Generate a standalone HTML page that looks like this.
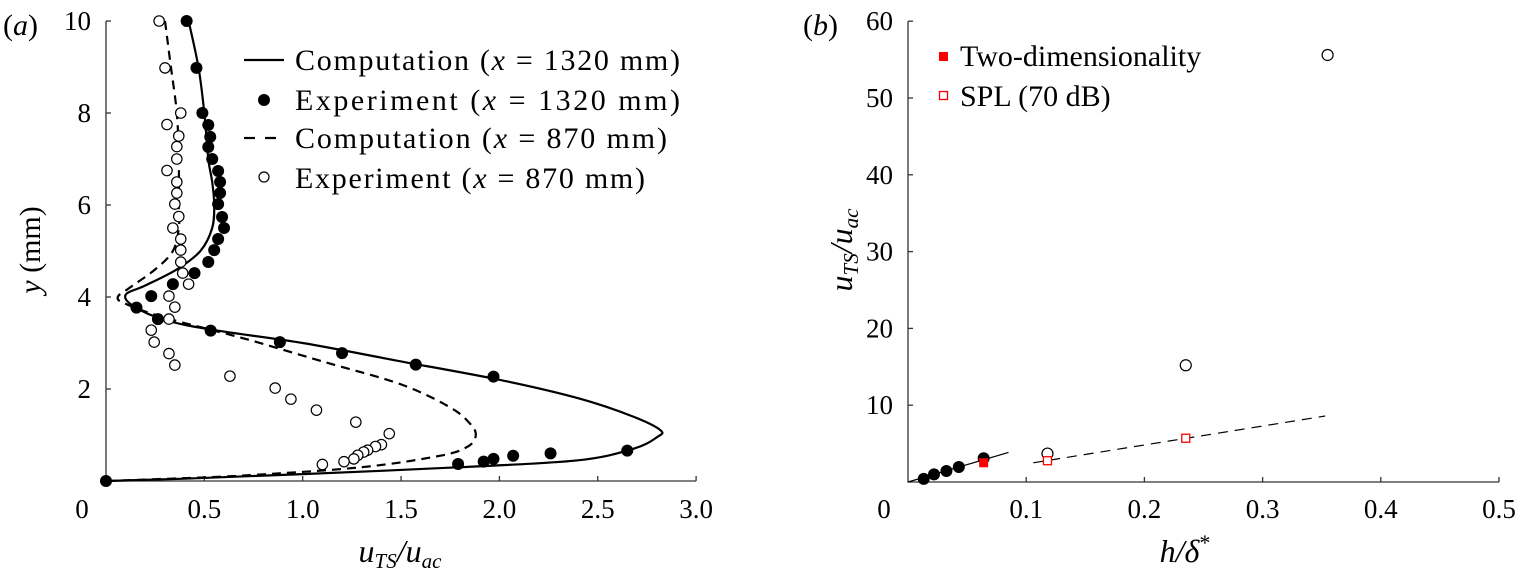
<!DOCTYPE html>
<html><head><meta charset="utf-8"><style>
html,body{margin:0;padding:0;background:#fff;}
svg{display:block;font-family:"Liberation Serif",serif;}
text{fill:#000;}
</style></head><body>
<svg id="fig" width="1520" height="588" viewBox="0 0 1520 588">
<g id="pa"></g>
<g id="pb"></g>
</svg>
<script>
// ---- Panel (a) data ----
const aXTicks = [0.5, 1.0, 1.5, 2.0, 2.5, 3.0];
const aXTickLabels = ["0.5","1.0","1.5","2.0","2.5","3.0"];
const aYTicks = [2, 4, 6, 8, 10];
const aYTickLabels = ["2","4","6","8","10"];
const comp1320U = [0.42,0.47,0.5,0.52,0.54,0.55,0.54,0.48,0.36,0.2,0.1,0.14,0.3,0.55,1.0,1.5,2.0,2.4,2.68,2.82,2.8,2.68,2.4,1.8,1.0,0.4,0];
const comp1320Y = [10,9,8,7,6.5,6,5.5,5.0,4.6,4.25,4.05,3.8,3.5,3.28,3.0,2.6,2.2,1.8,1.4,1.1,0.95,0.7,0.45,0.3,0.15,0.05,0];
const exp1320U = [0.41,0.46,0.49,0.52,0.53,0.52,0.54,0.57,0.58,0.58,0.57,0.59,0.6,0.57,0.55,0.52,0.45,0.34,0.23,0.155,0.264,0.532,0.884,1.2,1.575,1.97,2.65,2.26,2.07,1.97,1.92,1.79,0];
const exp1320Y = [10,8.98,8.0,7.74,7.48,7.26,7.0,6.74,6.5,6.26,6.02,5.74,5.5,5.26,5.02,4.76,4.52,4.28,4.02,3.77,3.52,3.27,3.02,2.78,2.53,2.27,0.66,0.6,0.55,0.48,0.42,0.37,0];
const comp870U = [0.3,0.33,0.36,0.37,0.37,0.37,0.34,0.25,0.12,0.06,0.1,0.3,0.7,1.1,1.5,1.75,1.85,1.88,1.84,1.7,1.3,0.7,0.2,0];
const comp870Y = [10,9,8,7,6,5.5,5.0,4.6,4.2,4.0,3.85,3.55,3.1,2.6,2.1,1.6,1.25,1.0,0.75,0.55,0.3,0.12,0.03,0];
const exp870U = [0.27,0.3,0.38,0.31,0.37,0.36,0.36,0.31,0.36,0.36,0.35,0.37,0.34,0.38,0.38,0.38,0.39,0.42,0.32,0.35,0.32,0.23,0.245,0.32,0.35,0.63,0.86,0.94,1.07,1.27,1.44,1.40,1.37,1.33,1.31,1.28,1.26,1.21,1.10];
const exp870Y = [10,8.98,8.0,7.75,7.5,7.27,7.0,6.75,6.5,6.26,6.02,5.75,5.5,5.26,5.02,4.76,4.52,4.28,4.02,3.78,3.52,3.28,3.02,2.77,2.52,2.28,2.02,1.78,1.54,1.28,1.03,0.79,0.75,0.67,0.63,0.56,0.48,0.42,0.36];
// ---- Panel (b) data ----
const bXTicks = [0.1,0.2,0.3,0.4,0.5];
const bXTickLabels = ["0.1","0.2","0.3","0.4","0.5"];
const bYTicks = [10,20,30,40,50,60];
const bYTickLabels = ["10","20","30","40","50","60"];
const bFilledH = [0.0133,0.022,0.0325,0.043,0.064];
const bFilledU = [0.4,1.0,1.43,1.95,3.1];
const bOpenH = [0.118,0.235,0.355];
const bOpenU = [3.7,15.2,55.6];
const bTwoDimH = [0.064];
const bTwoDimU = [2.5];
const bSplH = [0.118,0.235];
const bSplU = [2.77,5.7];
const bSolidH = [0,0.085];
const bSolidU = [0,3.85];
const bDashH = [0.106,0.353];
const bDashU = [2.5,8.6];

const NS = "http://www.w3.org/2000/svg";
function mk(parent, tag, attrs){ const e=document.createElementNS(NS,tag); for(const k in attrs) e.setAttribute(k,attrs[k]); parent.appendChild(e); return e; }
function txt(parent, x, y, s, anchor, size){ const t=mk(parent,'text',{x:x,y:y,'text-anchor':anchor||'middle','font-size':size||27}); t.textContent=s; return t; }

const ax = u => 106 + 196.7*u;
const ay = v => 481 - 46*v;
const bx = h => 908 + 1182*h;
const by = v => 482 - 7.68*v;

const pa = document.getElementById('pa');
const pb = document.getElementById('pb');
const TS = 27;

let e;
e = mk(pa,'path',{d:`M${ax(0)},${ay(10)}V${ay(0)}H${ax(3)}`,fill:'none',stroke:'#333','stroke-width':1.3});
 
aXTicks.forEach((v,i)=>{
  e = mk(pa,'line',{x1:ax(v),x2:ax(v),y1:ay(0),y2:ay(0)-5,stroke:'#333','stroke-width':1.3});
   
  e = txt(pa,ax(v),518,aXTickLabels[i],'middle',TS);
   
});
aYTicks.forEach((v,i)=>{
  e = mk(pa,'line',{x1:ax(0),x2:ax(0)+5,y1:ay(v),y2:ay(v),stroke:'#333','stroke-width':1.3});
   
  e = txt(pa,91,ay(v)+9,aYTickLabels[i],'end',TS);
   
});
e = txt(pa,82,518,"0",'middle',TS);  
e = txt(pa,3,35,"",'start',30); e.innerHTML='(<tspan font-style="italic">a</tspan>)';
 
e = mk(pa,'text',{transform:'translate(40,250) rotate(-90)','text-anchor':'middle','font-size':30});
e.innerHTML='<tspan font-style="italic">y</tspan> (mm)';
 
e = mk(pa,'text',{x:400,y:562,'text-anchor':'middle','font-size':32,'font-style':'italic'});
e.innerHTML='u<tspan font-size="21" dy="6">TS</tspan><tspan dy="-6">/u</tspan><tspan font-size="21" dy="6">ac</tspan>';
 

function pathFrom(X,Y,fx,fy){ return X.map((v,i)=>(i?'L':'M')+fx(v).toFixed(1)+','+fy(Y[i]).toFixed(1)).join(''); }
function smoothFrom(X,Y,fx,fy){
  const P = X.map((v,i)=>[fx(v),fy(Y[i])]);
  let d = 'M'+P[0][0].toFixed(1)+','+P[0][1].toFixed(1);
  for(let i=0;i<P.length-1;i++){
    const p0=P[Math.max(0,i-1)], p1=P[i], p2=P[i+1], p3=P[Math.min(P.length-1,i+2)];
    const c1=[p1[0]+(p2[0]-p0[0])/6, p1[1]+(p2[1]-p0[1])/6];
    const c2=[p2[0]-(p3[0]-p1[0])/6, p2[1]-(p3[1]-p1[1])/6];
    d += 'C'+c1[0].toFixed(1)+','+c1[1].toFixed(1)+' '+c2[0].toFixed(1)+','+c2[1].toFixed(1)+' '+p2[0].toFixed(1)+','+p2[1].toFixed(1);
  }
  return d;
}
e = mk(pa,'path',{d:smoothFrom(comp870U,comp870Y,ax,ay),fill:'none',stroke:'#000','stroke-width':2.2,'stroke-dasharray':'9,6','stroke-linejoin':'round'});
 
e = mk(pa,'path',{d:smoothFrom(comp1320U,comp1320Y,ax,ay),fill:'none',stroke:'#000','stroke-width':2.2,'stroke-linejoin':'round'});
 
exp870U.forEach((u,i)=>{
  e = mk(pa,'circle',{cx:ax(u),cy:ay(exp870Y[i]),r:5.2,fill:'#fff',stroke:'#000','stroke-width':1.2});
   
});
exp1320U.forEach((u,i)=>{
  e = mk(pa,'circle',{cx:ax(u),cy:ay(exp1320Y[i]),r:6,fill:'#000'});
   
});
const lg = mk(pa,'g',{});  
e = mk(lg,'line',{x1:244,x2:284,y1:60,y2:60,stroke:'#000','stroke-width':2.2});  
e = mk(lg,'circle',{cx:264,cy:100,r:6,fill:'#000'});  
e = mk(lg,'line',{x1:244,x2:284,y1:138,y2:138,stroke:'#000','stroke-width':2.2,'stroke-dasharray':'11,10'});  
e = mk(lg,'circle',{cx:264,cy:177,r:5,fill:'#fff',stroke:'#000','stroke-width':1.2});  
[["Computation",1320,70],["Experiment",1320,110],["Computation",870,148],["Experiment",870,188]].forEach(r=>{
  e = mk(lg,'text',{x:295,y:r[2],'font-size':30,textLength:r[1]==1320?385:(r[0]=="Computation"?372:350),lengthAdjust:'spacing'});
  e.innerHTML=r[0]+' (<tspan font-style="italic">x</tspan> = '+r[1]+' mm)';
   
});

// ---- Panel b ----
e = mk(pb,'path',{d:`M${bx(0)},${by(60)}V${by(0)}H${bx(0.5)}`,fill:'none',stroke:'#333','stroke-width':1.3});
 
bXTicks.forEach((v,i)=>{
  e = mk(pb,'line',{x1:bx(v),x2:bx(v),y1:by(0),y2:by(0)-5,stroke:'#333','stroke-width':1.3});
   
  e = txt(pb,bx(v),518,bXTickLabels[i],'middle',TS);
   
});
bYTicks.forEach((v,i)=>{
  e = mk(pb,'line',{x1:bx(0),x2:bx(0)+5,y1:by(v),y2:by(v),stroke:'#333','stroke-width':1.3});
   
  e = txt(pb,893,by(v)+9,bYTickLabels[i],'end',TS);
   
});
e = txt(pb,884,518,"0",'middle',TS);  
e = txt(pb,803,35,"",'start',30); e.innerHTML='(<tspan font-style="italic">b</tspan>)';
 
e = mk(pb,'text',{transform:'translate(852,250) rotate(-90)','text-anchor':'middle','font-size':32,'font-style':'italic'});
e.innerHTML='u<tspan font-size="21" dy="6">TS</tspan><tspan dy="-6">/u</tspan><tspan font-size="21" dy="6">ac</tspan>';
 
e = mk(pb,'text',{x:1185,y:562,'text-anchor':'middle','font-size':32,'font-style':'italic'});
e.innerHTML='h/δ<tspan font-style="normal" font-size="22" dy="-12">*</tspan>';
 

e = mk(pb,'path',{d:pathFrom(bSolidH,bSolidU,bx,by),fill:'none',stroke:'#000','stroke-width':1.2});
 
e = mk(pb,'path',{d:pathFrom(bDashH,bDashU,bx,by),fill:'none',stroke:'#000','stroke-width':1.2,'stroke-dasharray':'10,7'});
 
bFilledH.forEach((h,i)=>{
  e = mk(pb,'circle',{cx:bx(h),cy:by(bFilledU[i]),r:6,fill:'#000'});
   
});
bOpenH.forEach((h,i)=>{
  e = mk(pb,'circle',{cx:bx(h),cy:by(bOpenU[i]),r:5.5,fill:'#fff',stroke:'#000','stroke-width':1.2});
   
});
bTwoDimH.forEach((h,i)=>{
  e = mk(pb,'rect',{x:bx(h)-4.5,y:by(bTwoDimU[i])-4.5,width:9,height:9,fill:'#f00'});
   
});
bSplH.forEach((h,i)=>{
  e = mk(pb,'rect',{x:bx(h)-4,y:by(bSplU[i])-4,width:8,height:8,fill:'#fff',stroke:'#f00','stroke-width':1.3});
   
});
const lb = mk(pb,'g',{});  
e = mk(lb,'rect',{x:939,y:52,width:9,height:9,fill:'#f00'});  
e = mk(lb,'rect',{x:939.5,y:91.5,width:8,height:8,fill:'#fff',stroke:'#f00','stroke-width':1.3});  
e = mk(lb,'text',{x:960,y:66,'font-size':30}); e.textContent='Two-dimensionality';
 
e = mk(lb,'text',{x:960,y:106,'font-size':30}); e.textContent='SPL (70 dB)';
 
</script>
</body></html>
